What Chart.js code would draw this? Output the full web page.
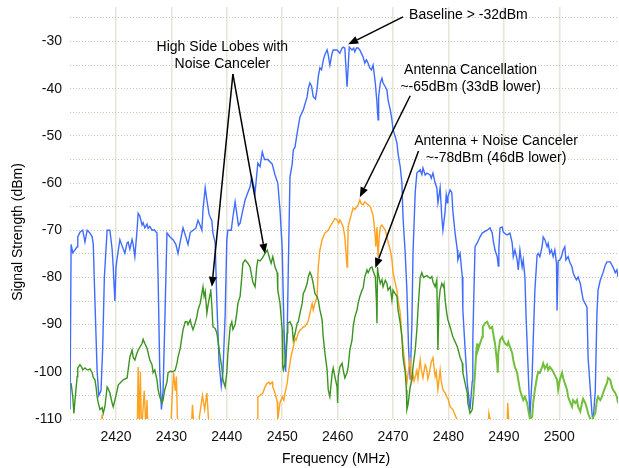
<!DOCTYPE html>
<html>
<head>
  <title>Signal Strength vs Frequency</title>
  <script src="https://cdn.jsdelivr.net/npm/chart.js"></script>
  <style>
    body { margin: 0; background: #fff; }
  </style>
</head>
<body>
<canvas id="spectrumChart" width="619" height="468"></canvas>

<script>
  // [frequency MHz, signal dBm] (values below -110 run off the chart)
  const baselineTrace = [
    [2411.7,-108],[2411.9,-73],[2412.2,-74.8],[2413.0,-73.5],[2413.1,-71.4],[2413.5,-70.4],[2414.0,-70],
    [2414.4,-72.5],[2414.8,-70],[2415.3,-70.6],[2415.7,-71.4],[2415.9,-73],[2416.2,-85],[2416.6,-100],
    [2416.9,-105],[2417.3,-104],[2417.6,-95],[2417.9,-80],[2418.4,-70],[2418.9,-70],[2419.3,-74],
    [2419.5,-77.8],[2419.8,-85],[2420.0,-77.8],[2420.2,-76],[2420.7,-72],[2421.0,-73],[2421.6,-74.9],
    [2422.0,-72.7],[2422.2,-72.5],[2422.5,-74],[2422.9,-72],[2423.1,-73],[2423.4,-75.6],[2423.8,-70],
    [2424.0,-66.4],[2424.3,-67],[2424.7,-68.9],[2424.9,-68.4],[2425.2,-69.5],[2425.6,-68.7],[2425.8,-69.6],
    [2426.1,-69.2],[2426.5,-70],[2426.9,-69.9],[2427.4,-70.6],[2427.6,-80],[2427.9,-100],[2428.2,-108],
    [2428.5,-104],[2428.8,-90],[2429.2,-70.6],[2429.8,-71.5],[2430.3,-72],[2430.8,-73],[2431.2,-74.9],
    [2431.5,-73],[2432.1,-69.5],[2432.6,-71.4],[2433.0,-73],[2433.4,-70.5],[2433.9,-70],[2434.4,-69.6],
    [2434.8,-67.9],[2435.2,-69],[2435.5,-70],[2435.7,-65.7],[2436.1,-61],[2436.4,-63.6],[2436.8,-66.6],
    [2437.0,-67.2],[2437.3,-68],[2437.5,-70.6],[2437.9,-72.7],[2438.2,-85],[2438.6,-98],[2439.0,-103],
    [2439.3,-100],[2439.7,-88],[2440.0,-72],[2440.2,-70],[2440.8,-70],[2441.1,-67.2],[2441.5,-64],
    [2441.8,-66.5],[2442.1,-69],[2442.4,-68.5],[2442.9,-65.7],[2443.3,-63.6],[2443.8,-62],[2444.2,-60.8],
    [2444.5,-58.7],[2445.1,-62],[2445.6,-55.8],[2446.0,-56.5],[2446.4,-53.4],[2446.8,-55],[2447.4,-55],
    [2448.2,-56],[2448.7,-58.3],[2449.2,-60],[2449.6,-65.7],[2450.0,-74],[2450.3,-90],[2450.6,-100],
    [2450.9,-92],[2451.1,-78],[2451.4,-58.7],[2451.8,-56],[2452.0,-53],[2452.3,-52.4],[2452.7,-49.4],
    [2453.2,-46],[2453.8,-44.5],[2454.5,-41.7],[2454.7,-40],[2455.0,-38.8],[2455.3,-39.5],[2455.6,-41.7],
    [2456.0,-42.2],[2456.3,-40],[2456.5,-37.5],[2456.8,-35.6],[2457.1,-36],[2457.4,-34],[2457.7,-32.8],
    [2458.1,-31.8],[2458.3,-32.8],[2458.6,-35],[2459.0,-32.5],[2459.2,-31.8],[2459.9,-31.8],[2460.4,-32.5],
    [2460.8,-31.4],[2461.0,-31.2],[2461.3,-31.4],[2461.7,-39.6],[2461.9,-35.4],[2462.1,-31.2],[2462.6,-31.8],
    [2462.9,-31.4],[2463.1,-32.2],[2463.4,-31.4],[2463.7,-31.4],[2464.0,-31.8],[2464.4,-32.8],[2464.6,-33.3],
    [2464.9,-34.6],[2465.2,-33.9],[2465.5,-34.6],[2465.8,-35.6],[2466.1,-36],[2466.4,-35],[2466.8,-38.8],
    [2467.1,-43],[2467.3,-46.6],[2467.4,-41.7],[2467.7,-38.8],[2468.0,-37.8],[2468.2,-38.8],[2468.6,-39.6],
    [2468.9,-40.3],[2469.1,-42.4],[2469.5,-44.5],[2469.8,-46.6],[2470.0,-48.7],[2470.4,-50.2],[2470.7,-51.5],
    [2470.9,-53.7],[2471.3,-56.6],[2471.6,-60],[2471.8,-67.2],[2472.2,-75],[2472.5,-82.7],[2472.8,-95],
    [2473.1,-101.7],[2473.4,-90],[2473.6,-75],[2474.0,-62],[2474.3,-57.9],[2474.9,-57.2],[2475.2,-58.2],
    [2475.4,-56.8],[2475.8,-58.3],[2476.1,-57.9],[2476.7,-58.3],[2476.9,-59],[2477.2,-57.9],[2477.6,-60],
    [2477.9,-61],[2478.1,-64.2],[2478.5,-61],[2478.8,-67.2],[2479.0,-70],[2479.4,-66],[2479.6,-62.5],
    [2479.8,-64.2],[2479.9,-62.9],[2480.3,-61.5],[2480.6,-62],[2480.8,-66],[2481.2,-70.6],[2481.6,-74.2],
    [2481.7,-76.3],[2482.1,-74.9],[2482.5,-79.9],[2482.6,-86.9],[2483.0,-95],[2483.4,-102.4],[2483.9,-108],
    [2484.3,-102],[2484.4,-93.3],[2484.6,-83],[2484.8,-73.5],[2485.2,-72.7],[2485.7,-71.4],[2486.1,-70.6],
    [2486.5,-70.3],[2487.0,-70],[2487.5,-69.5],[2487.9,-70.6],[2488.1,-72.3],[2488.4,-74.2],[2488.8,-75.6],
    [2489.0,-77.6],[2489.1,-74],[2489.3,-69.5],[2489.7,-69.3],[2489.9,-70.4],[2490.3,-70.8],[2490.6,-71],
    [2491.1,-70.6],[2491.5,-72.7],[2491.7,-75.6],[2492.0,-74.2],[2492.4,-76.3],[2492.6,-78.4],[2492.9,-74.2],
    [2493.3,-77.8],[2493.5,-76.3],[2493.8,-79.9],[2494.0,-88],[2494.4,-100],[2494.7,-109.6],[2495.1,-101],
    [2495.3,-93.3],[2495.6,-82.7],[2496.0,-75.3],[2496.2,-74.9],[2496.5,-75.6],[2496.9,-73.5],[2497.1,-71.4],
    [2497.4,-72],[2497.8,-73.5],[2498.0,-72.8],[2498.3,-74.9],[2498.6,-74.2],[2498.9,-75.6],[2499.2,-74.2],
    [2499.5,-77],[2499.6,-87],[2499.8,-76.5],[2500.1,-76.3],[2500.4,-75.6],[2500.7,-74.2],[2501.0,-73.5],
    [2501.2,-76.3],[2501.6,-75.6],[2501.9,-76.8],[2502.3,-77.8],[2502.5,-79],[2502.8,-79.9],[2503.1,-80.5],
    [2503.4,-79.9],[2503.8,-81.3],[2504.1,-83.4],[2504.3,-84.7],[2505.0,-86.3],[2505.2,-96.9],[2505.9,-108.8],
    [2506.1,-110.5],[2506.5,-104],[2506.8,-87.6],[2507.0,-82.7],[2507.4,-80.6],[2507.9,-79],[2508.3,-77.4],
    [2508.6,-76.7],[2509.2,-76.7],[2509.5,-77.4],[2509.7,-77.8],[2510.1,-79],[2510.4,-78.4],[2510.6,-79.9]
  ];

  const antennaTrace = [
    [2411.7,-115],[2417.0,-115],[2417.5,-109],[2417.8,-115],[2423.8,-115],[2424.0,-99],[2424.2,-112],
    [2424.4,-100],[2424.6,-113],[2425.1,-104],[2425.4,-112],[2425.6,-106],[2425.8,-115],[2429.8,-115],
    [2430.1,-106],[2430.4,-100.2],[2430.7,-104],[2430.9,-101],[2431.2,-115],[2433.5,-115],[2433.8,-107],
    [2434.1,-112],[2435.0,-110],[2435.6,-105],[2436.0,-108],[2436.4,-104.5],[2436.8,-112],[2437.0,-115],
    [2445.3,-115],[2445.5,-110],[2445.6,-105.3],[2446.0,-105],[2446.5,-104.5],[2446.9,-103.2],[2447.3,-102.4],
    [2447.6,-102.2],[2447.8,-102.6],[2448.2,-102.2],[2448.3,-103.2],[2448.7,-104.5],[2449.1,-106.3],
    [2449.2,-110],[2449.6,-106.6],[2450.0,-105.3],[2450.3,-106],[2450.5,-104.5],[2450.9,-102.4],[2451.1,-100.3],
    [2451.4,-98.2],[2451.6,-96.7],[2452.0,-94.8],[2452.3,-92.9],[2452.5,-93.3],[2452.9,-91.8],[2453.2,-91.2],
    [2453.5,-90.9],[2453.8,-90.5],[2454.1,-90.4],[2454.5,-89.7],[2454.7,-89.2],[2455.0,-87.6],[2455.4,-85.5],
    [2455.6,-86.9],[2455.9,-85.5],[2456.3,-84],[2456.5,-77.8],[2456.8,-74.2],[2457.2,-72],[2457.7,-70.6],
    [2458.3,-70],[2459.0,-68.5],[2459.2,-68.2],[2459.5,-67.5],[2459.9,-67.8],[2460.2,-68.5],[2460.4,-67.8],
    [2460.6,-68.2],[2461.0,-69.3],[2461.3,-71.4],[2461.7,-77.8],[2461.8,-75.5],[2461.9,-69.3],[2462.2,-67.8],
    [2462.6,-66.1],[2462.8,-65.3],[2463.1,-65.6],[2463.5,-65],[2463.7,-64.6],[2464.0,-63.6],[2464.2,-64.3],
    [2464.6,-64.6],[2464.9,-64],[2465.2,-64.3],[2465.5,-64.6],[2465.9,-65],[2466.2,-66.1],[2466.4,-66.8],
    [2466.7,-70],[2466.9,-73.5],[2467.1,-69.3],[2467.3,-75.6],[2467.5,-71.5],[2467.7,-69.3],[2468.0,-68.9],
    [2468.2,-69.3],[2468.6,-70],[2468.9,-71.4],[2469.1,-72.5],[2469.5,-74.2],[2469.8,-76.3],[2470.0,-79],
    [2470.4,-81.2],[2470.7,-82.7],[2470.9,-84.8],[2471.3,-87.5],[2471.6,-92.6],[2472.2,-99],[2472.5,-102.4],
    [2473.1,-96.9],[2473.3,-102],[2473.6,-100.5],[2473.8,-102],[2474.3,-99.7],[2474.5,-101.5],[2474.9,-97.5],
    [2475.1,-99.5],[2475.4,-101.3],[2475.8,-98.5],[2476.0,-99],[2476.3,-101.5],[2476.5,-100.5],[2476.9,-97.9],
    [2477.2,-97],[2477.6,-101],[2477.8,-100],[2478.1,-103.8],[2478.5,-99.6],[2478.7,-102],[2479.0,-103.8],
    [2479.4,-104.5],[2479.7,-105.3],[2479.9,-105.6],[2480.3,-107.4],[2480.8,-108],[2481.5,-110],[2481.7,-115],
    [2487.0,-115],[2487.3,-108.8],[2487.6,-110.5],[2487.7,-115],[2490.5,-115],[2490.7,-106.6],[2490.9,-110.5],
    [2491.1,-115],[2510.6,-115]
  ];

  const noiseCancelTrace = [
    [2411.9,-102.4],[2412.2,-105.3],[2412.4,-108.8],[2412.6,-106],[2413.0,-101],[2413.1,-99.2],[2413.5,-98.5],
    [2413.8,-99],[2414.0,-99.6],[2414.4,-99.2],[2414.8,-99.6],[2415.0,-99.6],[2415.3,-99.4],[2415.7,-100.2],
    [2415.9,-101.2],[2416.2,-101.7],[2416.4,-103.2],[2416.6,-105.3],[2416.8,-106.6],[2417.1,-108],
    [2417.5,-107.6],[2417.7,-108.8],[2418.0,-107.4],[2418.4,-103.2],[2418.6,-103.6],[2418.9,-104.5],
    [2419.3,-106.6],[2419.5,-107.4],[2419.8,-106],[2420.2,-104],[2420.4,-102.8],[2420.7,-102.4],[2421.3,-101.7],
    [2422.0,-101.3],[2422.2,-99.6],[2422.5,-96.9],[2422.9,-95.4],[2423.1,-96.9],[2423.4,-97.5],[2423.8,-96],
    [2424.0,-95.4],[2424.3,-94.8],[2424.7,-94],[2424.9,-93.1],[2425.2,-94],[2425.6,-95],[2425.8,-96],
    [2426.1,-97.5],[2426.5,-98.5],[2426.7,-100.2],[2427.0,-99.6],[2427.4,-101.7],[2427.6,-103.8],[2427.9,-105.3],
    [2428.3,-106.6],[2428.5,-106],[2428.8,-103.8],[2429.2,-102.2],[2429.4,-100.2],[2429.8,-99.9],[2430.3,-100],
    [2430.7,-99.6],[2431.0,-98.2],[2431.2,-96.9],[2431.6,-95],[2431.9,-92.6],[2432.1,-91.1],[2432.5,-89.4],
    [2432.8,-89.4],[2433.0,-90],[2433.4,-89],[2433.6,-90],[2433.9,-91.1],[2434.2,-90],[2434.6,-88.3],
    [2434.8,-86.9],[2435.2,-85.5],[2435.5,-83.4],[2435.7,-82],[2435.9,-84],[2436.1,-83],[2436.4,-87.6],
    [2436.6,-86],[2437.0,-83.4],[2437.1,-82.5],[2437.3,-86],[2437.5,-90.5],[2437.9,-90.8],[2438.2,-91.8],
    [2438.4,-93.3],[2438.8,-96.9],[2439.1,-99],[2439.3,-101.7],[2439.7,-103.2],[2440.0,-100.2],[2440.2,-96],
    [2440.6,-90.5],[2440.9,-89.4],[2441.1,-91],[2441.5,-90],[2441.8,-87.6],[2442.0,-85.5],[2442.4,-84],
    [2442.7,-80],[2442.9,-77],[2443.3,-76.3],[2443.8,-77],[2444.2,-77.8],[2444.7,-81],[2445.1,-82],
    [2445.4,-77.8],[2445.6,-76.3],[2446.0,-76.5],[2446.4,-75.9],[2446.9,-74.9],[2447.3,-74.2],[2447.5,-75],
    [2447.8,-76.3],[2448.0,-77],[2448.3,-75.6],[2448.7,-77.8],[2449.1,-79],[2449.2,-82.7],[2449.6,-85.5],
    [2450.0,-91.2],[2450.1,-99],[2450.2,-99.6],[2450.5,-98.2],[2450.9,-91.8],[2451.0,-89.7],[2451.4,-89.4],
    [2451.8,-90.5],[2452.0,-93.3],[2452.3,-92],[2452.7,-89.7],[2452.9,-89.4],[2453.2,-87.6],[2453.6,-85.5],
    [2453.8,-83.4],[2454.1,-82.7],[2454.5,-81.3],[2454.7,-79.9],[2455.0,-78.9],[2455.3,-79.7],[2455.6,-81.3],
    [2455.9,-83.4],[2456.3,-84.1],[2456.5,-84.8],[2456.8,-86.9],[2457.2,-89],[2457.4,-92.6],[2457.7,-96],
    [2458.1,-99.6],[2458.3,-103.8],[2458.6,-105.3],[2459.0,-100.5],[2459.2,-99.2],[2459.5,-101],[2459.9,-103.2],
    [2460.0,-106.6],[2460.1,-101],[2460.4,-99],[2460.8,-98.2],[2461.0,-99.6],[2461.3,-101.3],[2461.7,-100.2],
    [2461.9,-99],[2462.2,-95.4],[2462.6,-93.3],[2462.8,-90.5],[2463.1,-88.4],[2463.5,-86.9],[2463.7,-85.5],
    [2464.0,-84.1],[2464.4,-82.7],[2464.6,-82.3],[2464.9,-79.9],[2465.3,-78.4],[2465.5,-79],[2465.9,-78],
    [2466.2,-77.8],[2466.4,-78.6],[2466.8,-79.9],[2467.0,-85],[2467.1,-89.7],[2467.2,-77.8],[2467.3,-79],
    [2467.7,-81.3],[2468.0,-80.5],[2468.2,-82],[2468.6,-80.6],[2468.9,-81.3],[2469.1,-82.7],[2469.5,-82],
    [2469.8,-84.8],[2470.0,-82.7],[2470.4,-83.5],[2470.7,-84],[2470.9,-86.9],[2471.3,-89.7],[2471.6,-92.6],
    [2471.8,-96.9],[2472.2,-100.2],[2472.4,-103.8],[2472.5,-108],[2472.7,-107],[2473.1,-103.2],[2473.4,-101.7],
    [2473.6,-99],[2474.0,-95.4],[2474.3,-91.1],[2474.5,-86.9],[2474.9,-80],[2475.2,-79],[2475.5,-80],
    [2476.1,-79.6],[2476.7,-80.2],[2477.0,-79.8],[2477.2,-80.9],[2477.6,-82],[2477.9,-80.6],[2478.1,-95.4],
    [2478.3,-85],[2478.5,-82.7],[2478.8,-81.3],[2479.1,-82],[2479.2,-81.5],[2479.4,-84.8],[2479.7,-87.6],
    [2479.9,-89],[2480.3,-90.5],[2480.8,-92.6],[2481.6,-94.7],[2482.1,-96.9],[2482.5,-98.2],[2482.6,-100.2],
    [2483.0,-102.4],[2483.4,-104.5],[2483.5,-106.6],[2483.9,-108.8],[2484.3,-108],[2484.5,-105.3],
    [2484.8,-100.2],[2485.0,-96],[2485.2,-94],[2485.3,-95.5],[2485.7,-94],[2486.1,-92.6],[2486.2,-90.5],
    [2486.6,-89.7],[2487.0,-89.4],[2487.2,-90],[2487.5,-90.8],[2487.9,-90.5],[2488.1,-92.1],[2488.4,-94],
    [2488.8,-98.2],[2488.9,-100.2],[2489.0,-96],[2489.3,-93.3],[2489.7,-92.6],[2489.9,-93.3],[2490.2,-94],
    [2490.6,-94.4],[2490.8,-93.7],[2491.1,-94.7],[2491.5,-96],[2491.7,-97.5],[2492.0,-99],[2492.4,-100.2],
    [2492.6,-101.7],[2492.9,-103.8],[2493.3,-105.3],[2493.5,-106],[2493.8,-105.3],[2494.2,-106.6],[2494.4,-108],
    [2494.7,-110],[2495.1,-109.6],[2495.3,-106.6],[2495.6,-103.8],[2496.0,-101],[2496.2,-100],[2496.5,-100.2],
    [2496.9,-99],[2497.1,-98.2],[2497.4,-99.3],[2497.8,-98.5],[2498.0,-99.6],[2498.3,-99],[2498.7,-99.6],
    [2498.9,-100],[2499.2,-100.7],[2499.6,-101.7],[2499.8,-103.8],[2500.1,-101.7],[2500.5,-100.2],
    [2500.7,-101.3],[2501.0,-102.4],[2501.4,-103.8],[2501.6,-105.3],[2502.0,-106.6],[2502.3,-107.4],
    [2502.5,-106],[2502.9,-106.6],[2503.2,-106],[2503.4,-107.4],[2503.8,-108.4],[2504.1,-106.6],[2504.3,-105.7],
    [2504.7,-106.6],[2505.0,-107.8],[2505.2,-108.8],[2505.6,-110],[2505.9,-110.5],[2506.1,-109.6],
    [2506.5,-108.8],[2506.8,-106],[2507.0,-105.3],[2507.4,-106],[2507.7,-105.3],[2507.9,-104.5],[2508.3,-103.2],
    [2508.6,-102.4],[2508.8,-101.3],[2509.2,-101.7],[2509.5,-103.2],[2509.7,-103.8],[2510.1,-104.5],
    [2510.4,-105.3],[2510.6,-106.6]
  ];

  const freqTicks = [2420, 2430, 2440, 2450, 2460, 2470, 2480, 2490, 2500];
  const dbmTicks = [-30, -40, -50, -60, -70, -80, -90, -100, -110];

  // callout text and arrows, placed in data units [freq, dBm]
  const notes = [
    { lines: ['Baseline > -32dBm'], at: [2472.9, -24.4], align: 'left',
      arrows: [[[2471.8, -24.8], [2461.9, -30.6]]] },
    { lines: ['Antenna Cancellation', '~-65dBm (33dB lower)'], at: [2484.0, -36.0], align: 'center',
      arrows: [[[2473.1, -41.5], [2464.0, -63.0]]] },
    { lines: ['Antenna + Noise Canceler', '~-78dBm (46dB lower)'], at: [2488.6, -51.1], align: 'center',
      arrows: [[[2474.6, -53.2], [2466.8, -78.0]]] },
    { lines: ['High Side Lobes with', 'Noise Canceler'], at: [2439.2, -31.2], align: 'center',
      arrows: [[[2441.1, -36.9], [2437.3, -82.0]], [[2441.1, -36.9], [2446.9, -75.0]]] }
  ];

  const toPoints = arr => arr.map(([x, y]) => ({ x, y }));
  const FONT = '14px "Liberation Sans", Arial, Helvetica, sans-serif';
  const greenSplit = 2484.5;

  function drawArrow(ctx, x1, y1, x2, y2) {
    const ang = Math.atan2(y2 - y1, x2 - x1);
    const len = 10, half = 4;
    const bx = x2 - len * Math.cos(ang), by = y2 - len * Math.sin(ang);
    ctx.beginPath();
    ctx.moveTo(x1, y1);
    ctx.lineTo(bx, by);
    ctx.stroke();
    ctx.beginPath();
    ctx.moveTo(x2, y2);
    ctx.lineTo(bx + half * Math.sin(ang), by - half * Math.cos(ang));
    ctx.lineTo(bx - half * Math.sin(ang), by + half * Math.cos(ang));
    ctx.closePath();
    ctx.fill();
  }

  const notesPlugin = {
    id: 'notes',
    afterDraw(chart) {
      const ctx = chart.ctx;
      const xs = chart.scales.x, ys = chart.scales.y;
      ctx.save();
      ctx.fillStyle = '#000';
      ctx.strokeStyle = '#000';
      ctx.lineWidth = 1.5;
      ctx.font = FONT;
      ctx.textBaseline = 'middle';
      notes.forEach(n => {
        const tx = xs.getPixelForValue(n.at[0]);
        const ty = ys.getPixelForValue(n.at[1]);
        ctx.textAlign = n.align;
        n.lines.forEach((t, i) => ctx.fillText(t, tx, ty + i * 17.5));
        n.arrows.forEach(([a, b]) => {
          drawArrow(ctx, xs.getPixelForValue(a[0]), ys.getPixelForValue(a[1]),
                    xs.getPixelForValue(b[0]), ys.getPixelForValue(b[1]));
        });
      });
      // axis titles
      ctx.textAlign = 'center';
      ctx.fillText('Frequency (MHz)', 336, 459);
      ctx.translate(18, 232);
      ctx.rotate(-Math.PI / 2);
      ctx.fillText('Signal Strength (dBm)', 0, 0);
      ctx.restore();
    }
  };

  new Chart(document.getElementById('spectrumChart').getContext('2d'), {
    type: 'line',
    data: {
      datasets: [
        {
          label: 'Antenna + Noise Canceler',
          data: toPoints(noiseCancelTrace.filter(p => p[0] <= greenSplit)),
          borderColor: '#3b9421',
          borderWidth: 1.4
        },
        {
          label: 'Antenna + Noise Canceler (upper band)',
          data: toPoints(noiseCancelTrace.filter(p => p[0] >= greenSplit)),
          borderColor: '#72bf3d',
          borderWidth: 2
        },
        {
          label: 'Antenna Cancellation',
          data: toPoints(antennaTrace),
          borderColor: '#ffa21f',
          borderWidth: 1.4
        },
        {
          label: 'Baseline',
          data: toPoints(baselineTrace),
          borderColor: '#3f6cff',
          borderWidth: 1.4
        }
      ]
    },
    options: {
      responsive: false,
      animation: false,
      devicePixelRatio: 1,
      layout: { padding: { top: 7, right: 1, left: 0, bottom: 0 } },
      elements: { point: { radius: 0 }, line: { tension: 0 } },
      plugins: { legend: { display: false }, tooltip: { enabled: false } },
      scales: {
        x: {
          type: 'linear',
          min: 2411.7,
          max: 2510.6,
          afterFit: s => { s.height = 49; s.paddingLeft = 0; s.paddingRight = 0; },
          border: { display: false },
          grid: {
            drawTicks: false,
            lineWidth: 1.5,
            color: c => freqTicks.includes(c.tick.value) ? '#e6e5d6' : 'rgba(0,0,0,0)'
          },
          ticks: {
            stepSize: 10,
            includeBounds: false,
            autoSkip: false,
            maxRotation: 0,
            padding: 10,
            color: '#111',
            font: { family: '"Liberation Sans", Arial, sans-serif', size: 14 },
            callback: v => freqTicks.includes(v) ? String(v) : ''
          }
        },
        y: {
          type: 'linear',
          min: -110,
          max: -22.7,
          afterFit: s => { s.width = 70; s.paddingTop = 0; s.paddingBottom = 0; },
          border: { display: false, dash: [1, 2] },
          grid: {
            drawTicks: false,
            color: '#c9c7b0',
            lineWidth: 1
          },
          ticks: {
            stepSize: 5,
            includeBounds: false,
            autoSkip: false,
            padding: 8,
            color: '#111',
            font: { family: '"Liberation Sans", Arial, sans-serif', size: 14 },
            callback: v => dbmTicks.includes(v) ? String(v) : ''
          }
        }
      }
    },
    plugins: [notesPlugin]
  });
</script>
</body>
</html>
